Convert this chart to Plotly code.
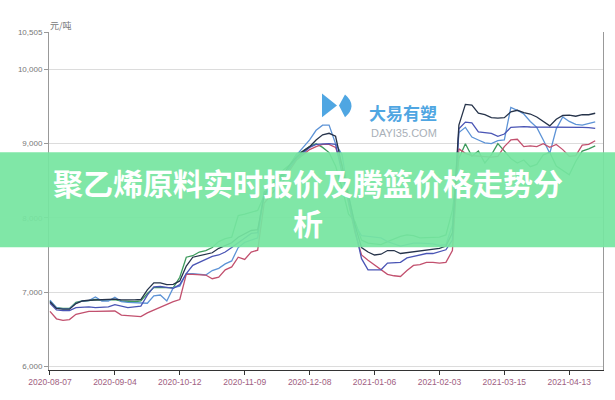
import plotly.graph_objects as go

# ---------------- data ----------------
trading_day = list(range(0, 170, 2))  # trading-day index, every 2nd day
tick_days = [0, 20, 40, 60, 80, 100, 120, 140, 160]
tick_labels = ["2020-08-07", "2020-09-04", "2020-10-12", "2020-11-09", "2020-12-08",
               "2021-01-06", "2021-02-03", "2021-03-15", "2021-04-13"]
y_ticks = [6000, 7000, 8000, 9000, 10000, 10505]
y_tick_labels = ["6,000", "7,000", "8,000", "9,000", "10,000", "10,505"]

navy = [6870, 6780, 6770, 6770, 6845, 6880, 6890, 6895, 6900, 6900,
        6905, 6895, 6890, 6895, 6900, 7030, 7125, 7125, 7100, 7105,
        7150, 7350, 7470, 7490, 7500, 7530, 7590, 7630, 7665, 7740,
        7780, 7830, 7840, 8300, 8420, 8530, 8600, 8720, 8820, 8900,
        8960, 9050, 9120, 9140, 9100, 8700, 8300, 7900, 7600, 7540,
        7500, 7510, 7560, 7560, 7520, 7530, 7545, 7550, 7560, 7570,
        7590, 7620, 7800, 9250, 9530, 9520, 9410, 9390, 9350, 9345,
        9350, 9430, 9450, 9420, 9400, 9360, 9300, 9240, 9330, 9380,
        9385, 9370, 9390, 9390, 9410]
blue = [6850, 6760, 6750, 6750, 6790, 6800, 6800, 6790, 6790, 6800,
        6830, 6810, 6790, 6800, 6810, 6960, 7070, 7075, 7060, 7050,
        7100, 7250, 7360, 7400, 7440, 7480, 7500, 7540, 7600, 7660,
        7720, 7790, 7800, 8350, 8400, 8500, 8580, 8680, 8800, 8880,
        8950, 8990, 9000, 9000, 8990, 8600, 8200, 7800, 7450, 7300,
        7300, 7300, 7390, 7390, 7400, 7460, 7480, 7500, 7520, 7520,
        7540, 7570, 7700, 9200, 9290, 9280, 9160, 9150, 9140, 9100,
        9130, 9220, 9230, 9230, 9225, 9225, 9230, 9230, 9225, 9230,
        9230, 9225, 9220, 9215, 9205]
light_blue = [6890, 6790, 6775, 6775, 6850, 6880, 6885, 6935, 6880, 6880,
              6930, 6870, 6860, 6860, 6860, 6850, 6950, 6960, 6880, 7060,
              7080, 7250, 7250, 7240, 7230, 7290, 7320, 7380, 7420, 7600,
              7670, 7700, 7730, 8330, 8380, 8450, 8560, 8700, 8850, 8950,
              9050, 9180, 9250, 9250, 9000, 8850, 8300, 7900, 7760, 7750,
              7740, 7730, 7680, 7650, 7620, 7640, 7660, 7660, 7660, 7650,
              7630, 7640, 7900, 9150, 9220, 9090, 9050, 9010, 9000, 9040,
              9050, 9490, 9450, 9400, 9300, 9220, 9050, 8870, 9200, 9360,
              9300, 9260, 9250, 9270, 9295]
red = [6740, 6640, 6620, 6630, 6700, 6715, 6740, 6740, 6740, 6740,
       6745, 6690, 6680, 6670, 6670, 6720, 6760, 6800, 6840, 6870,
       6900, 7240, 7240, 7240, 7230, 7180, 7200, 7300, 7340, 7470,
       7440, 7540, 7565, 8200, 8300, 8420, 8500, 8650, 8780, 8850,
       8920, 8960, 8990, 8990, 8950, 8700, 8200, 7800, 7500, 7430,
       7370, 7300, 7240, 7220, 7210, 7290, 7360, 7370, 7400, 7400,
       7390, 7400, 7560, 8930, 8870, 8840, 8830, 8825, 8820, 8830,
       8960, 9050, 9060, 8960, 8970, 8960, 9000, 8950, 8990, 8920,
       8830, 8840, 8980, 8990, 9040]
green = [6880, 6790, 6780, 6780, 6860, 6880, 6885, 6900, 6890, 6890,
         6900, 6880, 6870, 6870, 6880, 6980, 7060, 7060, 7050, 7060,
         7200, 7470, 7490, 7540, 7560, 7600, 7680, 7720, 7740, 8030,
         8050, 8080, 8100, 8300, 8420, 8560, 8650, 8720, 8860, 8900,
         8960, 9000, 8950, 8880, 8700, 8400, 8050, 7950, 7700, 7660,
         7650, 7640, 7680, 7720, 7750, 7770, 7760, 7730, 7730, 7730,
         7740, 7770, 8100, 8800, 9000, 8830, 8900, 8740, 8850, 9000,
         8900, 8800, 8740, 8780, 8690, 8720, 8850, 8880, 8700, 8640,
         8580, 8760, 8900, 8930, 8970]

series = [
    ("green", green, "#3d9a5c"),
    ("light_blue", light_blue, "#5d93d6"),
    ("red", red, "#c2506e"),
    ("blue", blue, "#4a55b5"),
    ("navy", navy, "#26334a"),
]

# ---------------- layout geometry ----------------
W, H = 615, 400
L, R, T, B = 49, 12, 31.5, 30
PW, PH = W - L - R, H - T - B


def px(x):
    return (x - L) / PW


def py(y):
    return (H - B - y) / PH


fig = go.Figure()
for name, vals, col in series:
    fig.add_trace(go.Scatter(x=trading_day, y=vals, mode="lines", name=name,
                             line=dict(color=col, width=1.3), hoverinfo="skip"))

shapes = [
    # green banner
    dict(type="rect", xref="paper", yref="paper", x0=px(0), x1=px(W), y0=py(247), y1=py(152),
         fillcolor="rgba(118,229,160,0.93)", line=dict(width=0), layer="above"),
    # logo icon (left triangle + right D)
    dict(type="path", xref="paper", yref="paper",
         path=f"M {px(322)} {py(93)} L {px(337)} {py(105)} L {px(322)} {py(117)} Z",
         fillcolor="#4fa6e2", line=dict(width=0), layer="below"),
    dict(type="path", xref="paper", yref="paper",
         path=(f"M {px(339)} {py(105)} L {px(345)} {py(94)} Q {px(358)} {py(105)} {px(345)} {py(117)} Z"),
         fillcolor="#4fa6e2", line=dict(width=0), layer="below"),
]

annotations = [
    dict(text="元/吨", xref="paper", yref="paper", x=px(47.5), y=py(16.5),
         showarrow=False, font=dict(size=9, color="#777", family="Noto Sans CJK SC")),
    dict(text="<b>大易有塑</b>", xref="paper", yref="paper", x=px(403), y=py(98),
         showarrow=False, font=dict(size=17, color="#4fa6e2", family="Noto Sans CJK SC")),
    dict(text="DAYI35.COM", xref="paper", yref="paper", x=px(403.5), y=py(125),
         showarrow=False, font=dict(size=11, color="#a9b0b8", family="Liberation Sans")),
    dict(text="<b>聚乙烯原料实时报价及腾篮价格走势分</b>", xref="paper", yref="paper",
         x=px(307.5), y=py(182), yanchor="middle", showarrow=False,
         font=dict(size=30, color="white", family="Noto Sans CJK SC")),
    dict(text="<b>析</b>", xref="paper", yref="paper",
         x=px(307.5), y=py(222), yanchor="middle", showarrow=False,
         font=dict(size=30, color="white", family="Noto Sans CJK SC")),
]

fig.update_layout(
    width=W, height=H, autosize=False,
    margin=dict(l=L, r=R, t=T, b=B, pad=0),
    paper_bgcolor="white", plot_bgcolor="white",
    showlegend=False,
    shapes=shapes, annotations=annotations,
    font=dict(family="Liberation Sans"),
)
fig.update_xaxes(range=[-0.3, 170.4], tickmode="array", tickvals=tick_days, ticktext=tick_labels,
                 showgrid=False, zeroline=False, showline=True, linecolor="#333", linewidth=1,
                 ticks="outside", ticklen=4, tickcolor="#333", automargin=False,
                 tickfont=dict(size=8.5, color="#a0607f"))
fig.update_yaxes(range=[5950, 10505], tickmode="array", tickvals=y_ticks, ticktext=y_tick_labels,
                 showgrid=True, gridcolor="#dcdcdc", gridwidth=1, zeroline=False,
                 showline=True, linecolor="#999", linewidth=1, mirror=True,
                 ticks="outside", ticklen=4, tickcolor="#999", automargin=False,
                 tickfont=dict(size=8, color="#777"))

fig.write_html("out.html", config={"displayModeBar": False},
               post_script="document.body.style.margin='0';document.body.style.overflow='hidden';")
